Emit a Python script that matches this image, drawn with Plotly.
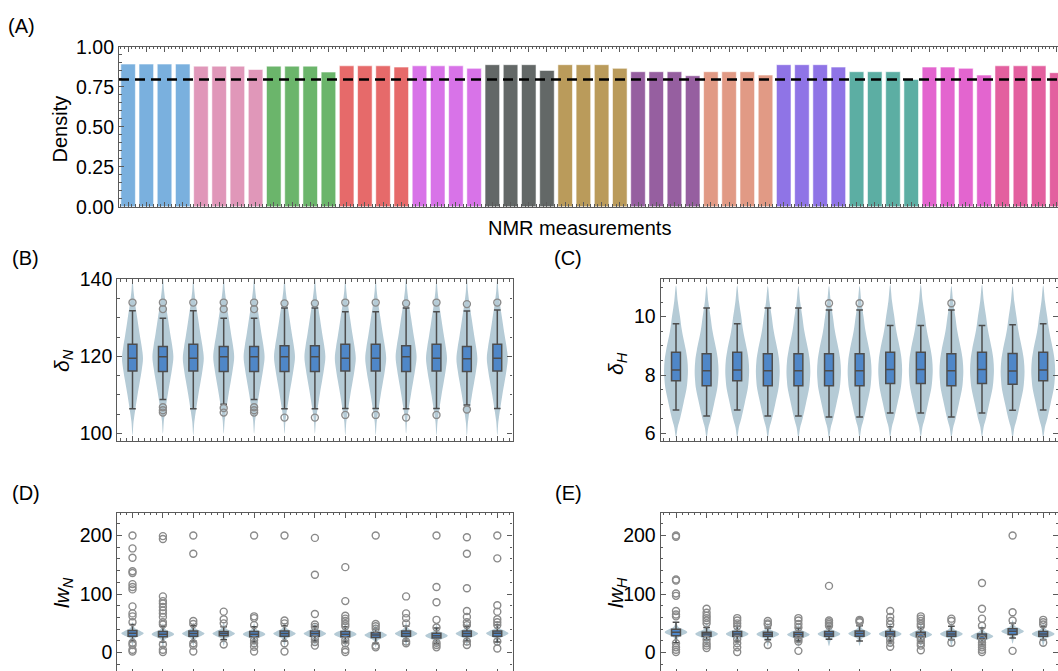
import plotly.graph_objects as go

# ---------------- data ----------------
# Panel A: density of each NMR measurement (52 bars in 13 groups of 4)
density = [
    0.892, 0.892, 0.892, 0.892,
    0.879, 0.879, 0.879, 0.858,
    0.879, 0.879, 0.879, 0.842,
    0.881, 0.881, 0.881, 0.873,
    0.881, 0.881, 0.881, 0.865,
    0.888, 0.888, 0.888, 0.852,
    0.888, 0.888, 0.888, 0.865,
    0.844, 0.844, 0.844, 0.819,
    0.844, 0.844, 0.844, 0.823,
    0.888, 0.888, 0.888, 0.873,
    0.844, 0.844, 0.844, 0.796,
    0.873, 0.873, 0.865, 0.823,
    0.881, 0.881, 0.881, 0.838,
]
density_threshold = 0.795

# Panel B: delta_N box statistics (13 measurements)
dN_med = [119.5, 119.9, 119.5, 119.9, 119.9, 119.9, 119.9, 119.5, 119.5, 119.9, 119.5, 119.4, 119.5]
dN_q1 = [116.2, 116.1, 116.2, 116.1, 116.1, 116.1, 116.1, 116.2, 116.2, 116.1, 116.2, 116.1, 116.2]
dN_q3 = [123.2, 122.6, 123.2, 122.6, 122.6, 122.8, 122.8, 123.2, 123.2, 122.8, 123.2, 122.6, 123.2]
dN_hi = [131.9, 129.9, 131.9, 129.9, 129.9, 132.6, 132.6, 131.6, 131.6, 132.6, 131.6, 131.8, 132.1]
dN_lo = [106.4, 108.8, 106.4, 107.6, 108.8, 106.4, 106.4, 106.5, 106.5, 106.4, 106.5, 107.4, 106.5]
dN_out = [
    [134.0], [134.0, 132.3, 106.8, 106.0, 105.4], [134.0], [134.0, 132.3, 106.6, 105.4],
    [134.0, 132.3, 106.8, 106.0, 105.4], [133.8, 104.1], [133.8, 104.1], [134.0, 104.8],
    [134.0, 104.8], [133.8, 104.1], [134.0, 104.8], [133.6, 106.2], [134.0],
]
# violin outline for delta_N: offsets from the median and relative half-width
dN_vio_off = [-20, -16.5, -13, -9.5, -6, -3, 0, 3, 6, 10, 14, 17.5, 21]
dN_vio_rel = [0, 0.1, 0.28, 0.48, 0.7, 0.88, 1.0, 0.88, 0.7, 0.48, 0.26, 0.1, 0]

# Panel C: delta_H box statistics
dH_med = [8.17, 8.15, 8.17, 8.15, 8.15, 8.15, 8.15, 8.19, 8.19, 8.15, 8.19, 8.14, 8.17]
dH_q1 = [7.80, 7.63, 7.80, 7.63, 7.63, 7.63, 7.63, 7.71, 7.71, 7.63, 7.71, 7.68, 7.80]
dH_q3 = [8.78, 8.73, 8.78, 8.73, 8.73, 8.73, 8.73, 8.78, 8.78, 8.73, 8.78, 8.74, 8.78]
dH_hi = [9.76, 10.30, 9.76, 10.30, 10.30, 10.23, 10.23, 9.70, 9.70, 10.23, 9.70, 9.72, 9.76]
dH_lo = [6.80, 6.60, 6.80, 6.60, 6.60, 6.56, 6.56, 6.70, 6.70, 6.56, 6.70, 6.79, 6.80]
dH_out = [[], [], [], [], [], [10.46], [10.46], [], [], [10.46], [], [], []]
dH_vio_off = [-2.3, -1.95, -1.65, -1.15, -0.65, -0.3, 0, 0.35, 0.7, 1.35, 1.85, 2.35, 2.9]
dH_vio_rel = [0, 0.15, 0.35, 0.62, 0.88, 0.97, 1.0, 0.95, 0.82, 0.5, 0.33, 0.15, 0]

# Panel D: lw_N
lwN_q1 = [28, 27, 28, 29, 27, 28, 28, 27, 26, 28, 25, 28, 28]
lwN_med = [33, 31.5, 32.5, 32.5, 31.5, 32.5, 32.5, 31.5, 30, 32.5, 29, 32.5, 33]
lwN_q3 = [38, 36, 37, 36, 36, 37, 37, 36, 34, 37, 33, 37, 37]
lwN_lo = [20, 18, 20, 22, 18, 20, 20, 18, 16, 20, 15, 20, 18]
lwN_hi = [48, 45, 46, 44, 44, 46, 45, 44, 40, 45, 42, 45, 47]
lwN_out = [
    [200, 178, 162, 139, 136, 117, 112, 108, 79, 67, 62, 52, 17, 13, 5, 2],
    [199, 194, 96, 88, 84, 78, 72, 67, 61, 52, 48, 14, 5, 1],
    [200, 169, 54, 49, 16, 12, 2],
    [70, 57, 50, 14],
    [200, 62, 59, 47, 21, 16, 10, 2],
    [200, 55, 50, 16, 2],
    [196, 133, 66, 48, 44, 23, 18, 12],
    [146, 88, 63, 58, 54, 49, 45, 21, 16, 5, 1],
    [200, 49, 45, 41, 12, 9],
    [96, 67, 59, 50, 19, 16],
    [200, 112, 86, 56, 43, 17, 13, 9],
    [197, 169, 110, 71, 61, 52, 47, 19, 13],
    [200, 161, 81, 70, 57, 52, 47, 19, 7],
]

# Panel E: lw_H
lwH_q1 = [29, 28, 28, 28, 27, 28, 28, 28, 27, 28, 24, 31, 28]
lwH_med = [35, 32, 32, 31.5, 31, 32, 32.5, 32, 31, 32, 28, 36.5, 32]
lwH_q3 = [40, 35, 36, 35, 35, 36, 37, 36, 35, 36, 32, 41, 36]
lwH_lo = [17, 22, 20, 22, 20, 23, 20, 20, 19, 22, 14, 25, 22]
lwH_hi = [52, 43, 45, 42, 42, 44, 46, 44, 43, 45, 42, 50, 44]
lwH_out = [
    [200, 198, 125, 123, 101, 97, 71, 65, 62, 16, 9, 5, 1],
    [75, 68, 63, 59, 55, 50, 22, 16, 12, 8],
    [59, 55, 50, 45, 23, 16, 9, 1],
    [54, 50, 48, 13],
    [59, 55, 49, 43, 23, 19, 3],
    [114, 55, 52, 49, 46],
    [56, 54, 52],
    [71, 61, 54, 48, 23, 17, 10],
    [62, 58, 54, 49, 45, 26, 21, 16, 12, 4],
    [58, 54, 17],
    [119, 75, 58, 46, 23, 17, 13, 9, 5, 1],
    [200, 69, 55, 3],
    [56, 52, 48, 17],
]
lw_vio_off = [-20, -9, -4, 0, 4, 9, 18]
lw_vio_rel = [0.03, 0.2, 0.7, 1.0, 0.7, 0.2, 0.03]

# ---------------- styles ----------------
group_colors = ["#7AB0DE", "#E097B9", "#6BB56B", "#E66A6A", "#D873E8", "#636867", "#BA9B5B",
                "#965FA0", "#E19A85", "#8F74E6", "#5CAEA3", "#E365CF", "#E3609F"]
VIOLIN = "#b5cbd6"
BOXFILL = "#4f87c8"
BOXLINE = "#4d4d4d"
OUTC = "#8a8a8a"
FRAME = "#5a5a5a"
FONT = "Liberation Sans, Arial, Helvetica, sans-serif"

W, H = 1100, 690


def fx(px):
    return px / W


def fy(py):
    return 1 - py / H


fig = go.Figure()

# ---------------- panel A ----------------
bar_colors = [group_colors[i // 4] for i in range(len(density))]
fig.add_trace(go.Bar(
    x=list(range(len(density))), y=density, width=0.8,
    marker=dict(color=bar_colors, line=dict(color="rgba(255,255,255,0.55)", width=1)),
    xaxis="x", yaxis="y", showlegend=False, hoverinfo="y"))
fig.add_shape(type="line", xref="x domain", yref="y", x0=0, x1=1,
              y0=density_threshold, y1=density_threshold,
              line=dict(color="black", width=2.6, dash="10px,6px"), layer="above")


def smooth_closed_path(pts):
    """Catmull-Rom closed curve through pts, as an SVG path in data coordinates."""
    n = len(pts)
    s = "M {:.5f},{:.5f}".format(*pts[0])
    for i in range(n):
        p0 = pts[(i - 1) % n]
        p1 = pts[i]
        p2 = pts[(i + 1) % n]
        p3 = pts[(i + 2) % n]
        c1 = (p1[0] + (p2[0] - p0[0]) / 6, p1[1] + (p2[1] - p0[1]) / 6)
        c2 = (p2[0] - (p3[0] - p1[0]) / 6, p2[1] - (p3[1] - p1[1]) / 6)
        s += " C {:.5f},{:.5f} {:.5f},{:.5f} {:.5f},{:.5f}".format(c1[0], c1[1], c2[0], c2[1], p2[0], p2[1])
    return s + " Z"


def add_panel(xa, ya, med, q1, q3, lo, hi, outs, offs, rel, maxw):
    n = len(med)
    for i in range(n):
        right = [(i + r * maxw, med[i] + o) for r, o in zip(rel, offs)]
        left = [(i - r * maxw, med[i] + o) for r, o in zip(rel, offs)]
        if rel[0] == 0:
            left = left[1:]
        if rel[-1] == 0:
            left = left[:-1]
        pts = right + left[::-1]
        fig.add_shape(type="path", path=smooth_closed_path(pts), xref=xa, yref=ya,
                      fillcolor=VIOLIN, line=dict(width=0), layer="below")
    fig.add_trace(go.Box(x=list(range(n)), q1=q1, median=med, q3=q3, lowerfence=lo, upperfence=hi,
                         orientation="v", width=0.29, whiskerwidth=0.75, fillcolor=BOXFILL,
                         line=dict(color=BOXLINE, width=1.5), boxpoints=False,
                         xaxis=xa, yaxis=ya, showlegend=False))
    ox, oy = [], []
    for i, o in enumerate(outs):
        ox += [i] * len(o)
        oy += o
    fig.add_trace(go.Scatter(x=ox, y=oy, mode="markers",
                             marker=dict(symbol="circle-open", size=7, color=OUTC, line=dict(width=1.4, color=OUTC)),
                             xaxis=xa, yaxis=ya, showlegend=False))


add_panel("x2", "y2", dN_med, dN_q1, dN_q3, dN_lo, dN_hi, dN_out, dN_vio_off, dN_vio_rel, 0.345)
add_panel("x3", "y3", dH_med, dH_q1, dH_q3, dH_lo, dH_hi, dH_out, dH_vio_off, dH_vio_rel, 0.39)
add_panel("x4", "y4", lwN_med, lwN_q1, lwN_q3, lwN_lo, lwN_hi, lwN_out, lw_vio_off, lw_vio_rel, 0.37)
add_panel("x5", "y5", lwH_med, lwH_q1, lwH_q3, lwH_lo, lwH_hi, lwH_out, lw_vio_off, lw_vio_rel, 0.37)


def axis(domain, rng, anchor, dtick, minor_dtick, tick0=0, labels=True, fmt=None):
    d = dict(domain=domain, range=rng, anchor=anchor, showline=True, linecolor=FRAME, linewidth=1.2,
             mirror="allticks", ticks="inside", ticklen=5, tickwidth=1, tickcolor=FRAME,
             showgrid=False, zeroline=False, tickmode="linear", tick0=tick0, dtick=dtick,
             automargin=False,
             showticklabels=labels, tickfont=dict(size=19.5, color="black", family=FONT),
             minor=dict(ticks="inside", ticklen=2.5, tickwidth=1, tickcolor=FRAME, showgrid=False,
                        dtick=minor_dtick, tick0=tick0))
    if fmt:
        d["tickformat"] = fmt
    return d


xB = [fx(117.3), fx(512.5)]
xC = [fx(660.7), fx(1058.5)]
yBC = [fy(440.7), fy(279.3)]
yDE = [fy(674), fy(512.7)]

fig.update_layout(
    width=W, height=H, autosize=False,
    margin=dict(l=0, r=0, t=0, b=0, pad=0, autoexpand=False),
    paper_bgcolor="white", plot_bgcolor="white",
    font=dict(family=FONT, color="black"),
    bargap=0.2, boxmode="overlay", showlegend=False,
    xaxis=axis([fx(119), fx(1066)], [-0.5, 51.5], "y", 1, 0.2, labels=False),
    yaxis=axis([fy(206.7), fy(46.7)], [0, 1.0005], "x", 0.25, 0.05, fmt=".2f"),
    xaxis2=axis(xB, [-0.5, 12.5], "y2", 1, 0.2, labels=False),
    yaxis2=axis(yBC, [98.1, 140.05], "x2", 20, 5),
    xaxis3=axis(xC, [-0.5, 12.5], "y3", 1, 0.2, labels=False),
    yaxis3=axis(yBC, [5.75, 11.28], "x3", 2, 0.5),
    xaxis4=axis(xB, [-0.5, 12.5], "y4", 1, 0.2, labels=False),
    yaxis4=axis(yDE, [-36.5, 239], "x4", 100, 20),
    xaxis5=axis(xC, [-0.5, 12.5], "y5", 1, 0.2, labels=False),
    yaxis5=axis(yDE, [-36.5, 239], "x5", 100, 20),
)

annots = [
    ("(A)", 21, 26, 0, 20), ("(B)", 25.5, 258, 0, 20), ("(C)", 568, 258, 0, 20),
    ("(D)", 25.5, 493, 0, 20), ("(E)", 568, 493, 0, 20),
    ("NMR measurements", 579, 228, 0, 20),
    ("Density", 59.5, 129, -90, 20),
    ("<i>δ<sub>N</sub></i>", 63, 361, -90, 21),
    ("<i>δ<sub>H</sub></i>", 617, 364, -90, 21),
    ("<i>lw<sub>N</sub></i>", 63, 593, -90, 21),
    ("<i>lw<sub>H</sub></i>", 617, 593, -90, 21),
]
for text, px, py, ang, size in annots:
    fig.add_annotation(text=text, x=fx(px), y=fy(py), xref="paper", yref="paper",
                       xanchor="center", yanchor="middle", showarrow=False, textangle=ang,
                       font=dict(size=size, color="black", family=FONT))

fig.write_html("out.html", post_script=(
    "document.body.style.margin='0';"
    "document.body.style.overflow='hidden';"
    "document.documentElement.style.overflow='hidden';"))
